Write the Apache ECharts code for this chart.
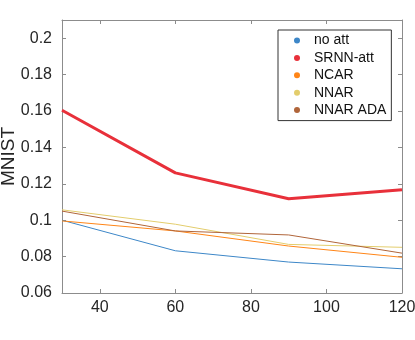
<!DOCTYPE html>
<html>
<head>
<meta charset="utf-8">
<script src="https://cdn.jsdelivr.net/npm/echarts@6/dist/echarts.min.js"></script>
<style>
  html, body { margin: 0; padding: 0; background: #fff; }
  #chart { width: 415px; height: 340px; }
</style>
</head>
<body>
<div id="chart"></div>
<script>
  const steps = [30, 60, 90, 120]
  const names = ['no att', 'SRNN-att', 'NCAR', 'NNAR', 'NNAR ADA']
  const colors = ['#3d87c8', '#e8303a', '#ff8517', '#e3cd6c', '#b0653a']
  const noAtt = [0.1, 0.0832, 0.077, 0.0733]
  const srnnAtt = [0.1604, 0.126, 0.1118, 0.1167]
  const ncar = [0.0996, 0.0941, 0.0858, 0.0796]
  const nnar = [0.1057, 0.0978, 0.0867, 0.0851]
  const nnarAda = [0.105, 0.0941, 0.0919, 0.0819]
  const values = [noAtt, srnnAtt, ncar, nnar, nnarAda]

  const font = 'Liberation Sans'
  const axisGray = '#8c8c8c'
  const chart = echarts.init(document.getElementById('chart'))

  let series = []
  for (let i = 0; i < names.length; i++) {
    series.push({
      name: names[i],
      type: 'line',
      showSymbol: false,
      symbol: 'circle',
      animation: false,
      lineStyle: { width: i === 1 ? 3 : 1, color: colors[i] },
      itemStyle: { color: colors[i] },
      data: steps.map((s, j) => [s, values[i][j]])
    })
  }

  const xBase = {
    type: 'value',
    min: 30,
    max: 120,
    splitLine: { show: false },
    axisLine: { show: true, onZero: false, lineStyle: { color: axisGray } },
    axisTick: { inside: true, length: 4, lineStyle: { color: axisGray } }
  }
  const yBase = {
    type: 'value',
    min: 0.06,
    max: 0.21,
    interval: 0.02,
    splitLine: { show: false },
    axisLine: { show: true, onZero: false, lineStyle: { color: axisGray } },
    axisTick: { inside: true, length: 4, lineStyle: { color: axisGray } }
  }

  chart.setOption({
    textStyle: { fontFamily: font },
    grid: { left: 62, right: 13, top: 20, bottom: 47, containLabel: false, outerBoundsMode: 'none' },
    legend: {
      data: names,
      orient: 'vertical',
      left: 278,
      top: 30,
      icon: 'circle',
      itemWidth: 6,
      itemHeight: 6,
      itemGap: 3.4,
      padding: [3.5, 5, 3.5, 16],
      borderColor: '#333',
      borderWidth: 1,
      backgroundColor: '#fff',
      textStyle: { fontSize: 14, color: '#111', fontFamily: font, padding: [0, 0, 0, 9] }
    },
    xAxis: [
      Object.assign({}, xBase, {
        position: 'bottom',
        axisLabel: { showMinLabel: false, fontSize: 16, color: '#262626', margin: 7, fontFamily: font }
      }),
      Object.assign({}, xBase, { position: 'top', axisLabel: { show: false } })
    ],
    yAxis: [
      Object.assign({}, yBase, {
        position: 'left',
        name: 'MNIST',
        nameLocation: 'middle',
        nameGap: 44,
        nameMoveOverlap: false,
        nameTextStyle: { fontSize: 19, color: '#262626', fontFamily: font },
        axisLabel: { showMaxLabel: false, fontSize: 16, color: '#262626', margin: 10, fontFamily: font }
      }),
      Object.assign({}, yBase, { position: 'right', axisLabel: { show: false } })
    ],
    series: series
  })
</script>
</body>
</html>
